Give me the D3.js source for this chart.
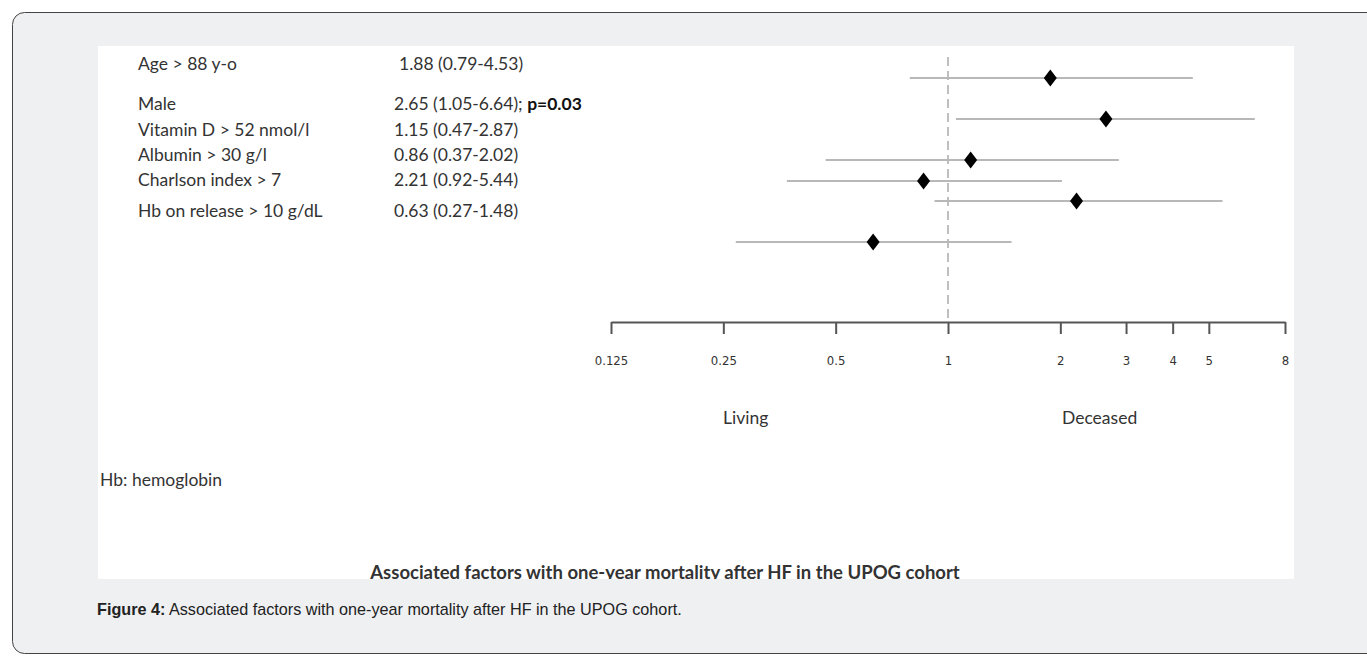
<!DOCTYPE html>
<html>
<head>
<meta charset="utf-8">
<script src="https://cdn.jsdelivr.net/npm/d3@7"></script>
<style>
  body { margin: 0; background: #fff; }
  .lbl { font-family: Lato, "Open Sans", sans-serif; font-size: 17.5px; fill: #333; }
  .tick text { font-family: "Liberation Sans Narrow", "DejaVu Sans Condensed", Lato, sans-serif; font-size: 13px; fill: #333; }
  .caption { font-family: "Liberation Sans", Arial, sans-serif; font-size: 16.2px; fill: #222; }
</style>
</head>
<body>
<svg id="chart" width="1367" height="657"></svg>
<script>
var factors = ["Age > 88 y-o", "Male", "Vitamin D > 52 nmol/l", "Albumin > 30 g/l", "Charlson index > 7", "Hb on release > 10 g/dL"];
var oddsRatio = [1.88, 2.65, 1.15, 0.86, 2.21, 0.63];
var ciLow = [0.79, 1.05, 0.47, 0.37, 0.92, 0.27];
var ciHigh = [4.53, 6.64, 2.87, 2.02, 5.44, 1.48];
var pValues = ["", "p=0.03", "", "", "", ""];
var tickValues = [0.125, 0.25, 0.5, 1, 2, 3, 4, 5, 8];
var tickLabels = ["0.125", "0.25", "0.5", "1", "2", "3", "4", "5", "8"];

var rows = factors.map(function(f, i) {
  return { factor: f, or: oddsRatio[i], lo: ciLow[i], hi: ciHigh[i], p: pValues[i] };
});

var svg = d3.select("#chart");

// card + white figure panel
svg.append('rect').attr('x', 12.5).attr('y', 12.5).attr('width', 1400).attr('height', 641)
  .attr('rx', 12).attr('fill', '#eff0f2').attr('stroke', '#444').attr('stroke-width', 1);
svg.append('clipPath').attr('id', 'panelClip').append('rect')
  .attr('x', 98).attr('y', 46).attr('width', 1196).attr('height', 533);
var panel = svg.append('g').attr('clip-path', 'url(#panelClip)');
panel.append('rect').attr('x', 98).attr('y', 46).attr('width', 1196).attr('height', 533).attr('fill', '#fff');

var xScale = d3.scaleLog().base(2).domain([0.125, 8]).range([611, 1285]);
var markY = d3.scaleOrdinal().domain(factors).range([78, 119, 160, 181, 201, 242]);
var textY = d3.scaleOrdinal().domain(factors).range([64, 104, 130, 155, 180, 211]);

// text columns
panel.selectAll('.factor').data(rows).enter().append('text')
  .attr('class', 'lbl factor')
  .attr('x', 138).attr('y', function(d) { return textY(d.factor); })
  .attr('dy', '0.35em')
  .text(function(d) { return d.factor; });

var f2 = d3.format('.2f');
var est = panel.selectAll('.est').data(rows).enter().append('text')
  .attr('class', 'lbl est')
  .attr('x', function(d, i) { return i === 0 ? 399 : 394; })
  .attr('y', function(d) { return textY(d.factor); })
  .attr('dy', '0.35em');
est.append('tspan').text(function(d) { return f2(d.or) + ' (' + f2(d.lo) + '-' + f2(d.hi) + ')' + (d.p ? '; ' : ''); });
est.append('tspan').attr('font-weight', 'bold').attr('fill', '#111').text(function(d) { return d.p; });

// reference line at 1
panel.append('line')
  .attr('x1', xScale(1)).attr('x2', xScale(1)).attr('y1', 57).attr('y2', 322)
  .attr('stroke', '#aaa').attr('stroke-width', 1.5).attr('stroke-dasharray', '9,5');

// confidence intervals
panel.selectAll('.ci').data(rows).enter().append('line')
  .attr('class', 'ci')
  .attr('x1', function(d) { return xScale(d.lo); })
  .attr('x2', function(d) { return xScale(d.hi); })
  .attr('y1', function(d) { return markY(d.factor); })
  .attr('y2', function(d) { return markY(d.factor); })
  .attr('stroke', '#b8b8b8').attr('stroke-width', 2);

// point estimates
panel.selectAll('.pt').data(rows).enter().append('path')
  .attr('class', 'pt')
  .attr('d', 'M0,-8.5L6.5,0L0,8.5L-6.5,0Z')
  .attr('transform', function(d) { return 'translate(' + xScale(d.or) + ',' + markY(d.factor) + ')'; })
  .attr('fill', '#000');

// axis
var axis = panel.append('g').attr('transform', 'translate(0, 322)')
  .call(d3.axisBottom(xScale).tickValues(tickValues)
    .tickFormat(function(d, i) { return tickLabels[i]; })
    .tickSize(12).tickSizeOuter(0).tickPadding(22));
axis.select('.domain').attr('stroke', '#555').attr('stroke-width', 2);
axis.selectAll('.tick line').attr('stroke', '#555').attr('stroke-width', 2);

panel.append('text').attr('class', 'lbl').attr('x', 723).attr('y', 418).attr('dy', '0.35em').text('Living');
panel.append('text').attr('class', 'lbl').attr('x', 1062).attr('y', 418).attr('dy', '0.35em').text('Deceased');
panel.append('text').attr('class', 'lbl').attr('x', 100).attr('y', 480).attr('dy', '0.35em').text('Hb: hemoglobin');
panel.append('text').attr('class', 'lbl').attr('x', 665).attr('y', 573).attr('dy', '0.35em')
  .attr('text-anchor', 'middle').attr('font-weight', 'bold').attr('fill', '#111').style('font-size', '18.5px')
  .text('Associated factors with one-year mortality after HF in the UPOG cohort');

// figure caption
var cap = svg.append('text').attr('class', 'caption').attr('x', 97).attr('y', 615);
cap.append('tspan').attr('font-weight', 'bold').text('Figure 4:');
cap.append('tspan').text(' Associated factors with one-year mortality after HF in the UPOG cohort.');
</script>
</body>
</html>
